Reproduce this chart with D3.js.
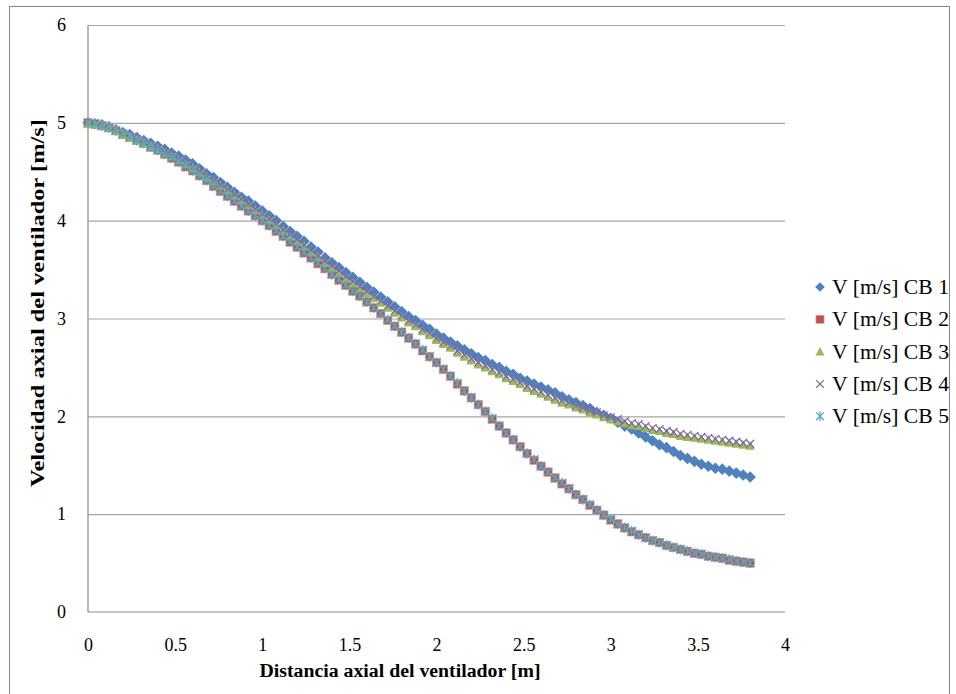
<!DOCTYPE html>
<html>
<head>
<meta charset="utf-8">
<script src="https://cdn.jsdelivr.net/npm/d3@7"></script>
<style>
  body { margin: 0; background: #fff; }
  svg text { font-family: "Times New Roman", "Liberation Serif", "DejaVu Serif", serif; fill: #000; }
</style>
</head>
<body>
<div id="chart"></div>
<script>
// distance along fan axis [m]
var distancia = [0.00,0.04,0.08,0.12,0.16, 0.20,0.24,0.28,0.32,0.36, 0.40,0.44,0.48,0.52,0.56, 0.60,0.64,0.68,0.72,0.76,
  0.80,0.84,0.88,0.92,0.96, 1.00,1.04,1.08,1.12,1.16, 1.20,1.24,1.28,1.32,1.36, 1.40,1.44,1.48,1.52,1.56,
  1.60,1.64,1.68,1.72,1.76, 1.80,1.84,1.88,1.92,1.96, 2.00,2.04,2.08,2.12,2.16, 2.20,2.24,2.28,2.32,2.36,
  2.40,2.44,2.48,2.52,2.56, 2.60,2.64,2.68,2.72,2.76, 2.80,2.84,2.88,2.92,2.96, 3.00,3.04,3.08,3.12,3.16,
  3.20,3.24,3.28,3.32,3.36, 3.40,3.44,3.48,3.52,3.56, 3.60,3.64,3.68,3.72,3.76, 3.80];

var cb1 = [5.00,4.99,4.98,4.96,4.93, 4.90,4.88,4.85,4.82,4.79, 4.76,4.73,4.69,4.66,4.62, 4.58,4.53,4.48,4.44,4.39,
  4.34,4.29,4.24,4.20,4.15, 4.10,4.05,4.00,3.94,3.89, 3.84,3.79,3.73,3.68,3.62, 3.57,3.52,3.47,3.42,3.37,
  3.32,3.27,3.22,3.17,3.12, 3.07,3.02,2.98,2.93,2.89, 2.84,2.80,2.76,2.72,2.68, 2.64,2.60,2.57,2.53,2.50,
  2.46,2.43,2.39,2.36,2.33, 2.30,2.27,2.24,2.20,2.17, 2.14,2.11,2.08,2.04,2.01, 1.98,1.94,1.90,1.87,1.83,
  1.79,1.75,1.71,1.68,1.64, 1.60,1.57,1.54,1.51,1.49, 1.47,1.46,1.44,1.42,1.40, 1.38];

var cb2 = [5.00,4.99,4.97,4.95,4.92, 4.88,4.85,4.82,4.79,4.75, 4.72,4.68,4.64,4.60,4.55, 4.51,4.46,4.41,4.35,4.30,
  4.25,4.20,4.15,4.10,4.05, 4.00,3.95,3.89,3.84,3.78, 3.73,3.67,3.62,3.56,3.51, 3.45,3.39,3.34,3.28,3.23,
  3.17,3.11,3.05,2.98,2.92, 2.86,2.80,2.74,2.67,2.61, 2.55,2.48,2.41,2.33,2.26, 2.19,2.12,2.05,1.97,1.90,
  1.83,1.76,1.69,1.62,1.55, 1.49,1.43,1.37,1.31,1.26, 1.20,1.15,1.09,1.04,0.99, 0.94,0.90,0.86,0.82,0.79,
  0.76,0.73,0.71,0.68,0.66, 0.64,0.62,0.60,0.59,0.57, 0.56,0.55,0.53,0.52,0.51, 0.50];

var cb3 = [4.99,4.98,4.97,4.95,4.92, 4.88,4.85,4.82,4.79,4.76, 4.73,4.69,4.66,4.62,4.58, 4.54,4.50,4.45,4.40,4.36,
  4.31,4.26,4.21,4.16,4.11, 4.06,4.01,3.95,3.90,3.84, 3.79,3.74,3.68,3.63,3.57, 3.52,3.47,3.41,3.36,3.31,
  3.26,3.21,3.16,3.11,3.06, 3.01,2.96,2.92,2.87,2.83, 2.78,2.74,2.70,2.65,2.61, 2.57,2.53,2.50,2.46,2.43,
  2.39,2.36,2.33,2.29,2.26, 2.23,2.20,2.17,2.14,2.12, 2.09,2.07,2.04,2.02,1.99, 1.97,1.95,1.93,1.91,1.90,
  1.88,1.86,1.85,1.83,1.82, 1.80,1.79,1.78,1.77,1.76, 1.75,1.74,1.73,1.72,1.71, 1.70];

var cb4 = [5.00,4.99,4.97,4.95,4.92, 4.89,4.86,4.83,4.80,4.77, 4.74,4.70,4.67,4.63,4.59, 4.55,4.51,4.46,4.41,4.37,
  4.32,4.27,4.22,4.17,4.12, 4.07,4.02,3.97,3.91,3.86, 3.81,3.75,3.70,3.64,3.59, 3.54,3.49,3.43,3.38,3.33,
  3.28,3.23,3.18,3.13,3.08, 3.03,2.98,2.94,2.89,2.85, 2.80,2.76,2.72,2.67,2.63, 2.59,2.55,2.52,2.48,2.45,
  2.41,2.38,2.35,2.31,2.28, 2.25,2.22,2.19,2.16,2.14, 2.11,2.09,2.06,2.04,2.01, 1.99,1.97,1.95,1.93,1.92,
  1.90,1.88,1.87,1.85,1.84, 1.82,1.81,1.80,1.79,1.78, 1.77,1.76,1.75,1.74,1.73, 1.72];

var cb5 = [5.00,4.99,4.97,4.95,4.92, 4.89,4.86,4.82,4.79,4.76, 4.72,4.68,4.64,4.60,4.56, 4.51,4.46,4.41,4.36,4.30,
  4.25,4.20,4.15,4.10,4.05, 4.00,3.95,3.90,3.84,3.79, 3.73,3.68,3.62,3.57,3.51, 3.45,3.40,3.34,3.28,3.23,
  3.17,3.11,3.05,2.99,2.92, 2.86,2.80,2.74,2.68,2.61, 2.55,2.48,2.41,2.34,2.26, 2.19,2.12,2.05,1.98,1.90,
  1.83,1.76,1.69,1.62,1.56, 1.49,1.43,1.37,1.32,1.26, 1.20,1.15,1.10,1.04,0.99, 0.95,0.90,0.86,0.83,0.79,
  0.76,0.73,0.71,0.68,0.66, 0.64,0.62,0.60,0.59,0.57, 0.56,0.55,0.54,0.52,0.51, 0.50];

var serieNames = ["V [m/s] CB 1", "V [m/s] CB 2", "V [m/s] CB 3", "V [m/s] CB 4", "V [m/s] CB 5"];
var serieColors = ["#4F81BD", "#C0504D", "#9BBB59", "#8064A2", "#4BACC6"];
var serieMarkers = ["diamond", "square", "triangle", "cross", "star"];
var xTicks = [0, 0.5, 1, 1.5, 2, 2.5, 3, 3.5, 4];
var yTicks = [0, 1, 2, 3, 4, 5, 6];

var series = [cb1, cb2, cb3, cb4, cb5].map(function (vals, i) {
  return {
    name: serieNames[i], color: serieColors[i], marker: serieMarkers[i],
    points: vals.map(function (v, j) { return { x: distancia[j], y: v }; })
  };
});

var width = 956, height = 694;
var margin = { left: 88, right: 171, top: 25, bottom: 82 };
var serif = '"Times New Roman", "Liberation Serif", "DejaVu Serif", serif';

var svg = d3.select('#chart').append('svg')
  .attr('width', width)
  .attr('height', height);

// chart border
svg.append('rect')
  .attr('x', 9.5).attr('y', 6.5)
  .attr('width', 940).attr('height', 700)
  .attr('fill', 'none')
  .attr('stroke', '#868686')
  .attr('stroke-width', 1);

var x = d3.scaleLinear().domain([0, 4]).range([margin.left, width - margin.right]);
var y = d3.scaleLinear().domain([0, 6]).range([height - margin.bottom, margin.top]);

// gridlines
svg.append('g')
  .attr('transform', 'translate(' + margin.left + ',0)')
  .call(d3.axisLeft(y).tickValues(yTicks.slice(1)).tickSize(-(x(4) - x(0))).tickFormat(''))
  .call(function (g) {
    g.select('.domain').remove();
    g.selectAll('line').attr('stroke', '#a6a6a6').attr('stroke-width', 1.2);
  });

// axis lines
svg.append('line')
  .attr('x1', x(0)).attr('x2', x(0)).attr('y1', y(6)).attr('y2', y(0))
  .attr('stroke', '#8c8c8c').attr('stroke-width', 1.2);
svg.append('line')
  .attr('x1', x(0)).attr('x2', x(4)).attr('y1', y(0)).attr('y2', y(0))
  .attr('stroke', '#8c8c8c').attr('stroke-width', 1.2);

// tick labels
var yAxis = svg.append('g')
  .attr('transform', 'translate(' + margin.left + ',0)')
  .call(d3.axisLeft(y).tickValues(yTicks).tickSize(0).tickPadding(22).tickFormat(d3.format('d')));
yAxis.attr('font-family', serif).attr('font-size', 18);
yAxis.select('.domain').remove();
yAxis.selectAll('text').attr('fill', '#000');

var xAxis = svg.append('g')
  .attr('transform', 'translate(0,' + y(0) + ')')
  .call(d3.axisBottom(x).tickValues(xTicks).tickSize(0).tickPadding(26).tickFormat(function (d) { return String(d); }));
xAxis.attr('font-family', serif).attr('font-size', 18);
xAxis.select('.domain').remove();
xAxis.selectAll('text').attr('fill', '#000');

// axis titles
svg.append('text')
  .attr('x', 400).attr('y', 677)
  .attr('text-anchor', 'middle')
  .attr('font-family', serif)
  .style('font-size', '18px')
  .style('font-weight', 'bold')
  .attr('textLength', 281)
  .attr('lengthAdjust', 'spacingAndGlyphs')
  .text('Distancia axial del ventilador [m]');

svg.append('text')
  .attr('transform', 'translate(44,303) rotate(-90)')
  .attr('text-anchor', 'middle')
  .attr('font-family', serif)
  .style('font-size', '18px')
  .style('font-weight', 'bold')
  .attr('textLength', 368)
  .attr('lengthAdjust', 'spacingAndGlyphs')
  .text('Velocidad axial del ventilador [m/s]');

// marker shapes //
function drawMarker(sel, type, color, s) {
  if (type === 'diamond') {
    sel.append('path').attr('d', 'M0,' + (-s) + 'L' + s + ',0L0,' + s + 'L' + (-s) + ',0Z').attr('fill', color);
  } else if (type === 'square') {
    sel.append('rect').attr('x', -s * 0.85).attr('y', -s * 0.85).attr('width', s * 1.7).attr('height', s * 1.7)
      .attr('fill', color).attr('stroke', '#e3aaa8').attr('stroke-width', 0.7);
  } else if (type === 'triangle') {
    sel.append('path').attr('d', 'M0,' + (-s * 0.95) + 'L' + s * 0.95 + ',' + s * 0.8 + 'L' + (-s * 0.95) + ',' + s * 0.8 + 'Z').attr('fill', color);
  } else if (type === 'cross') {
    var c = s * 0.8;
    sel.append('path').attr('d', 'M' + (-c) + ',' + (-c) + 'L' + c + ',' + c + 'M' + c + ',' + (-c) + 'L' + (-c) + ',' + c)
      .attr('stroke', color).attr('stroke-width', 1.2).attr('fill', 'none');
  } else if (type === 'star') {
    var a = s * 0.8;
    sel.append('path').attr('d', 'M' + (-a) + ',' + (-a) + 'L' + a + ',' + a + 'M' + a + ',' + (-a) + 'L' + (-a) + ',' + a + 'M0,' + (-s) + 'L0,' + s)
      .attr('stroke', color).attr('stroke-width', 1.3).attr('fill', 'none');
  }
}

var markerSize = { diamond: 5.8, square: 5, triangle: 5, cross: 5, star: 5 };

// series //
series.forEach(function (s) {
  var g = svg.append('g').attr('class', 'serie');
  g.selectAll('g')
    .data(s.points)
    .enter()
    .append('g')
      .attr('transform', function (d) { return 'translate(' + x(d.x) + ',' + y(d.y) + ')'; })
      .each(function () { drawMarker(d3.select(this), s.marker, s.color, markerSize[s.marker]); });
});

// legend //
var legend = svg.append('g').attr('transform', 'translate(820,287)');
series.forEach(function (s, i) {
  var row = legend.append('g').attr('transform', 'translate(0,' + (i * 32.3) + ')');
  drawMarker(row, s.marker, s.color, 4.8);
  row.append('text')
    .attr('x', 12).attr('y', 7)
    .attr('font-family', serif)
    .style('font-size', '20px')
    .attr('textLength', 117)
    .attr('lengthAdjust', 'spacingAndGlyphs')
    .text(s.name);
});
</script>
</body>
</html>
